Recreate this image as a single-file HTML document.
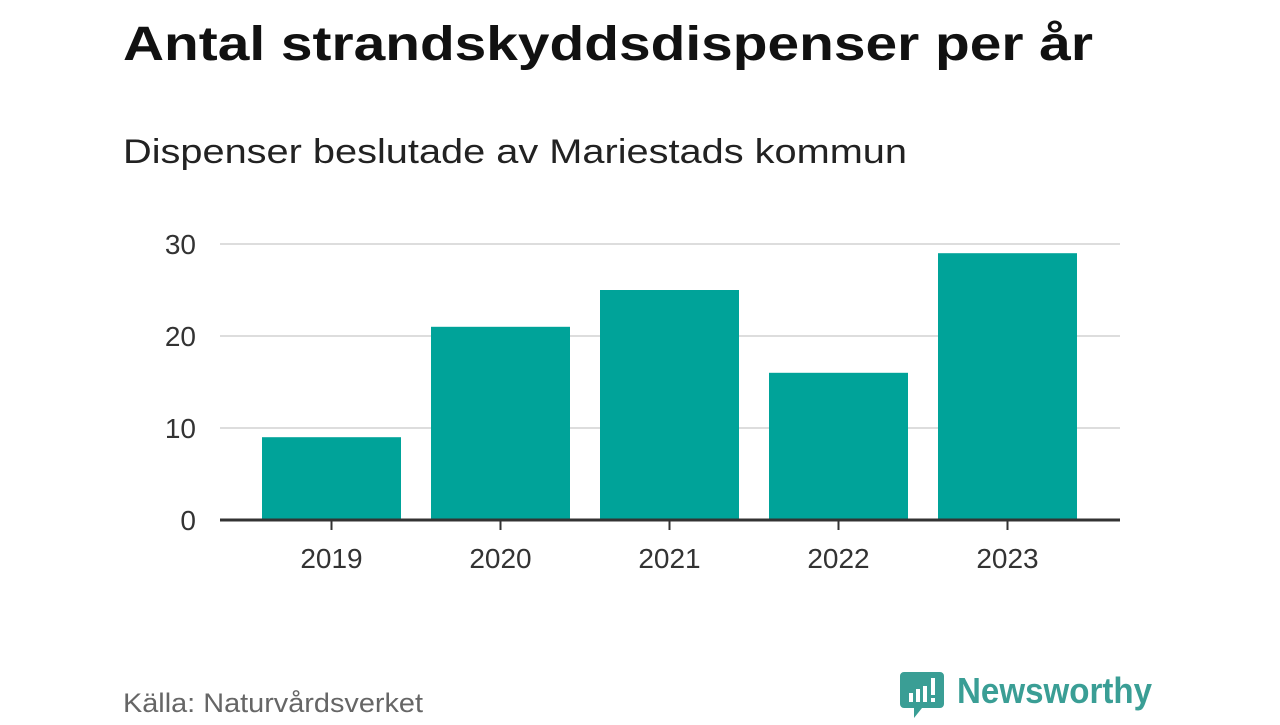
<!DOCTYPE html>
<html><head><meta charset="utf-8"><style>
body{margin:0;width:1280px;height:720px;background:#fff;font-family:"Liberation Sans",sans-serif;overflow:hidden}
</style></head><body>
<svg width="1280" height="720">
<text x="123" y="60" font-size="48" font-weight="bold" fill="#111" textLength="970" lengthAdjust="spacingAndGlyphs">Antal strandskyddsdispenser per år</text>
<text x="123" y="163" font-size="34" fill="#222" textLength="784" lengthAdjust="spacingAndGlyphs">Dispenser beslutade av Mariestads kommun</text>
<g id="grid"></g><g id="bars"></g><g id="axis"></g>
<text x="123" y="712" font-size="27" fill="#666" textLength="300" lengthAdjust="spacingAndGlyphs">Källa: Naturvårdsverket</text>
<g>
<path d="M904 672 h36 a4 4 0 0 1 4 4 v28 a4 4 0 0 1 -4 4 h-18 l-8 10 v-10 h-10 a4 4 0 0 1 -4 -4 v-28 a4 4 0 0 1 4 -4z" fill="#3a9e95"/>
<rect x="909" y="693" width="4" height="9" fill="#fff"/><rect x="916" y="689" width="4" height="13" fill="#fff"/><rect x="923" y="686" width="4" height="16" fill="#fff"/><rect x="931" y="678" width="4" height="17" fill="#fff"/><rect x="931" y="698" width="4" height="4" fill="#fff"/>
<text x="957" y="703" font-size="36" font-weight="bold" fill="#3a9e95" textLength="195" lengthAdjust="spacingAndGlyphs">Newsworthy</text>
</g>
</svg>
<script>
const categories=["2019","2020","2021","2022","2023"];
const values=[9,21,25,16,29];
const ticks=[0,10,20,30];
const NS="http://www.w3.org/2000/svg";
const y=v=>520-v*9.2;
const xc=i=>331.5+i*169;
function mk(tag,attrs,parent){const e=document.createElementNS(NS,tag);for(const k in attrs)e.setAttribute(k,attrs[k]);document.getElementById(parent).appendChild(e);return e;}
ticks.forEach(t=>{
 if(t>0){const l=mk("line",{x1:220,x2:1120,y1:y(t),y2:y(t),stroke:"#ddd","stroke-width":2},"grid");
 
 }
 const tx=mk("text",{x:196,y:y(t)+10,"font-size":28,fill:"#333","text-anchor":"end"},"axis");
 tx.textContent=t;
 
 
});
categories.forEach((c,i)=>{
 const r=mk("rect",{x:xc(i)-69.5,y:y(values[i]),width:139,height:values[i]*9.2,fill:"#00a399"},"bars");
 
 
 const tk=mk("line",{x1:xc(i),x2:xc(i),y1:520,y2:530,stroke:"#333","stroke-width":2},"axis");
 
 
 const t=mk("text",{x:xc(i),y:568,"font-size":28,fill:"#333","text-anchor":"middle"},"axis");
 t.textContent=c;
 
 
});
const ax=mk("line",{x1:220,x2:1120,y1:520,y2:520,stroke:"#333","stroke-width":3},"axis");


</script>
</body></html>
